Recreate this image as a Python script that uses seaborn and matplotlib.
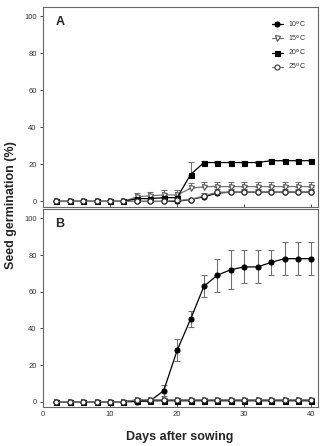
import numpy as np
import pandas as pd
import matplotlib
matplotlib.use("Agg")
import matplotlib.pyplot as plt
import seaborn as sns

# days after sowing
days = [2, 4, 6, 8, 10, 12, 14, 16, 18, 20, 22, 24, 26, 28, 30, 32, 34, 36, 38, 40]
temps = ["10", "15", "20", "25"]

# panel A values (mean, error)
a_10 = [0, 0, 0, 0, 0, 0, 0, 0, 0, 0, 1, 2.5, 4.5, 5, 5, 5, 5, 5, 5, 5]
a_10_err = [0, 0, 0, 0, 0, 0, 0, 0, 0, 0, 0.5, 1, 1, 1, 1, 1, 1, 1, 1, 1]
a_15 = [0, 0, 0, 0, 0, 0, 2.5, 3, 3.5, 3.5, 7, 8, 8, 8, 8, 8, 8, 8, 8, 8]
a_15_err = [0, 0, 0, 0, 0, 0, 2, 2, 2.5, 2.5, 3, 2.5, 2.5, 2.5, 2.5, 2.5, 2.5, 2.5, 2.5, 2.5]
a_20 = [0, 0, 0, 0, 0, 0, 1.5, 1.5, 2, 2, 14.5, 21, 21, 21, 21, 21, 22, 22, 22, 22]
a_20_err = [0, 0, 0, 0, 0, 0, 0.5, 0.5, 0.5, 0.5, 7, 0.8, 0.8, 0.8, 0.8, 0.8, 0.8, 0.8, 0.8, 0.8]
a_25 = [0, 0, 0, 0, 0, 0, 0, 0, 0, 0.5, 1, 3, 5, 5, 5, 5, 5, 5, 5, 5]
a_25_err = [0, 0, 0, 0, 0, 0, 0, 0, 0, 0.5, 1, 1.5, 1.5, 1.5, 1.5, 1.5, 1.5, 1.5, 1.5, 1.5]

# panel B values (mean, error)
b_10 = [0, 0, 0, 0, 0, 0, 0, 0.5, 6, 28, 45, 63, 69, 72, 73.5, 73.5, 76, 78, 78, 78]
b_10_err = [0, 0, 0, 0, 0, 0, 0, 0.5, 3, 6, 4.5, 6, 9, 10.5, 9, 9, 7, 9, 9, 9]
b_15 = [0, 0, 0, 0, 0, 0, 1, 1, 1, 1, 1, 1, 1, 1, 1, 1, 1, 1, 1, 1]
b_15_err = [0, 0, 0, 0, 0, 0, 0.5, 0.5, 0.5, 0.5, 0.5, 0.5, 0.5, 0.5, 0.5, 0.5, 0.5, 0.5, 0.5, 0.5]
b_20 = [0, 0, 0, 0, 0, 0, 0.5, 0.5, 0.5, 0.5, 0.5, 0.5, 0.5, 0.5, 0.5, 0.5, 0.5, 0.5, 0.5, 0.5]
b_20_err = [0] * 20
b_25 = [0, 0, 0, 0, 0, 0, 1, 1, 1, 1, 1, 1, 1, 1, 1, 1, 1, 1, 1, 1]
b_25_err = [0] * 20

sns.set_theme(style="ticks")
plt.rcParams['font.family'] = ['Liberation Sans', 'DejaVu Sans']

styles = {
    "10": dict(marker="o", mfc="black", mec="black", line="black"),
    "15": dict(marker="v", mfc="white", mec="#555555", line="#777777"),
    "20": dict(marker="s", mfc="black", mec="black", line="black"),
    "25": dict(marker="o", mfc="white", mec="#333333", line="#777777"),
}

panels = {
    "A": ([a_10, a_15, a_20, a_25], [a_10_err, a_15_err, a_20_err, a_25_err], True),
    "B": ([b_10, b_15, b_20, b_25], [b_10_err, b_15_err, b_20_err, b_25_err], False),
}

fig = plt.figure(figsize=(3.2, 4.46), dpi=100)
ax_a = fig.add_axes([0.134, 0.536, 0.86, 0.448])
ax_b = fig.add_axes([0.134, 0.087, 0.86, 0.444])

for ax, (name, (vals, errs, upper_only)) in zip([ax_a, ax_b], panels.items()):
    for t, v, e in zip(temps, vals, errs):
        st = styles[t]
        df = pd.DataFrame({"day": days, "germ": v})
        yerr = [np.zeros(len(e)), e] if upper_only else e
        ax.errorbar(days, v, yerr=yerr, fmt="none", ecolor="#707070",
                    elinewidth=0.8, capsize=2, capthick=0.8, zorder=2)
        sns.lineplot(data=df, x="day", y="germ", ax=ax, color=st["line"],
                     linewidth=0.9, marker=st["marker"], markersize=3.6,
                     markerfacecolor=st["mfc"], markeredgecolor=st["mec"],
                     markeredgewidth=0.8, label=f"{t}$^{{\\mathrm{{o}}}}$C",
                     zorder=3)
    ax.set_xlim(0, 41)
    ax.set_ylim(-3, 105)
    ax.set_yticks([0, 20, 40, 60, 80, 100])
    ax.set_xticks([0, 10, 20, 30, 40])
    ax.set_xlabel("")
    ax.set_ylabel("")
    ax.tick_params(axis="y", direction="out", length=2.5, width=0.6,
                   labelsize=5.5, colors="#333333", pad=2)
    ax.tick_params(axis="x", direction="in", length=2.5, width=0.6,
                   labelsize=5.5, colors="#333333", pad=3)
    for s in ax.spines.values():
        s.set_visible(True)
        s.set_color("#666666")
        s.set_linewidth(0.8)
    ax.text(0.045, 0.925, name, transform=ax.transAxes, fontsize=9,
            fontweight="bold", va="center", ha="left")

ax_a.tick_params(axis="x", labelbottom=False)
ax_b.get_legend().remove()
leg = ax_a.legend(loc="upper right", fontsize=5, frameon=False,
                  handlelength=1.6, handletextpad=0.8, labelspacing=0.6,
                  borderaxespad=1.3)
for txt in leg.get_texts():
    txt.set_color("#333333")

fig.text(0.035, 0.54, "Seed germination (%)", rotation=90, fontsize=9,
         fontweight="bold", ha="center", va="center")
fig.text(0.56, 0.02, "Days after sowing", fontsize=9, fontweight="bold",
         ha="center", va="center")

fig.savefig("out.png", dpi=100)
